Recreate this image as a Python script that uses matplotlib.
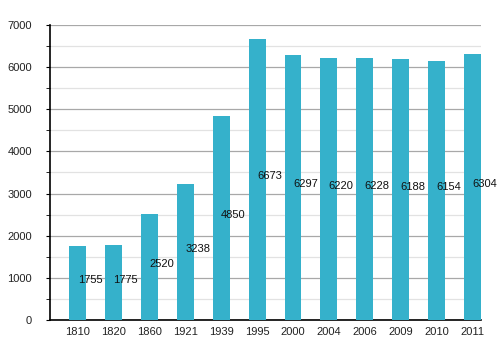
import matplotlib
matplotlib.use("Agg")
import matplotlib.pyplot as plt
from matplotlib.ticker import MultipleLocator

plt.rcParams["font.family"] = ["Liberation Sans", "DejaVu Sans"]

years = ["1810", "1820", "1860", "1921", "1939", "1995",
         "2000", "2004", "2006", "2009", "2010", "2011"]
population = [1755, 1775, 2520, 3238, 4850, 6673,
              6297, 6220, 6228, 6188, 6154, 6304]

BAR = "#35b1cb"

fig = plt.figure(figsize=(5, 3.5), dpi=100)
ax = fig.add_axes([50 / 500, 30 / 350, 431 / 500, 295 / 350])

x = range(len(years))
ax.bar(x, population, width=0.47, color=BAR, zorder=3)

for i, v in zip(x, population):
    ax.text(i, v / 2, str(v), ha="left", va="baseline",
            fontsize=8, color="#111", zorder=4)

ax.set_xlim(-0.77, 11.24)
ax.set_ylim(0, 7000)
ax.set_xticks(list(x))
ax.set_xticklabels(years)
ax.yaxis.set_major_locator(MultipleLocator(1000))
ax.yaxis.set_minor_locator(MultipleLocator(500))

ax.grid(axis="y", which="major", color="#a8a8a8", lw=0.9, zorder=1)
ax.grid(axis="y", which="minor", color="#e2e2e2", lw=0.9, zorder=1)

for s in ("top", "right"):
    ax.spines[s].set_visible(False)
ax.spines["left"].set_color("black")
ax.spines["bottom"].set_color("black")
ax.spines["left"].set_linewidth(1.2)
ax.spines["bottom"].set_linewidth(1.2)

ax.tick_params(axis="x", length=0, pad=5, labelsize=8, labelcolor="#222")
ax.tick_params(axis="y", which="major", length=3, pad=10, labelsize=8,
               labelcolor="#222")
ax.tick_params(axis="y", which="minor", length=3)

fig.savefig("out.png", dpi=100)
